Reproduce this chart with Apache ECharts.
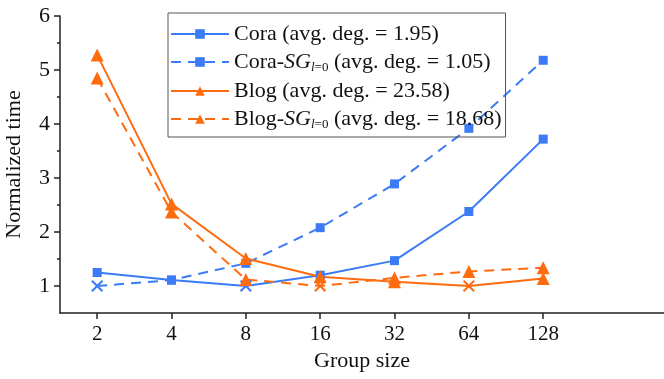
<!DOCTYPE html>
<html>
<head>
<meta charset="utf-8">
<script src="https://cdn.jsdelivr.net/npm/echarts@6/dist/echarts.min.js"></script>
<style>
  html, body { margin: 0; padding: 0; background: #fff; }
  #main { width: 664px; height: 379px; }
</style>
</head>
<body>
<div id="main"></div>
<script>
var groupSizes = [2, 4, 8, 16, 32, 64, 128];
var cora = [1.25, 1.11, 1.0, 1.2, 1.47, 2.38, 3.72];
var coraSG = [1.0, 1.11, 1.42, 2.08, 2.89, 3.92, 5.18];
var blog = [5.28, 2.52, 1.51, 1.17, 1.08, 1.0, 1.14];
var blogSG = [4.85, 2.37, 1.12, 1.0, 1.15, 1.27, 1.34];
var yTicks = [1, 2, 3, 4, 5, 6];

var BLUE = '#3B7BF6';
var ORANGE = '#FF6B0F';
var FONT = 'Liberation Serif';
var CROSS = 'path://M0,1.2L1.2,0L5,3.8L8.8,0L10,1.2L6.2,5L10,8.8L8.8,10L5,6.2L1.2,10L0,8.8L3.8,5Z';

var logX = groupSizes.map(function (g) { return Math.log2(g); });

function makeSeries(name, values, color, symbol, size, dashed) {
  return {
    name: name,
    type: 'line',
    symbol: symbol,
    symbolSize: size,
    color: color,
    lineStyle: { width: 2, type: dashed ? [10, 7] : 'solid' },
    itemStyle: { color: color },
    data: values.map(function (v, i) {
      var d = { value: [logX[i], v] };
      // normalised minimum gets the cross marker
      if (v === 1) { d.symbol = CROSS; d.symbolSize = 12; }
      return d;
    })
  };
}

var legendNames = {
  'Cora': 'Cora (avg. deg. = 1.95)',
  'Cora-SG': 'Cora-{i|SG}{s|l}{s2|=0} (avg. deg. = 1.05)',
  'Blog': 'Blog (avg. deg. = 23.58)',
  'Blog-SG': 'Blog-{i|SG}{s|l}{s2|=0} (avg. deg. = 18.68)'
};

var myChart = echarts.init(document.getElementById('main'));

var option = {
  animation: false,
  backgroundColor: '#fff',
  grid: { left: 60, right: 0, top: 16, bottom: 66, outerBoundsMode: 'none', containLabel: false },
  legend: {
    orient: 'vertical',
    left: 168,
    top: 13,
    padding: [10, 4, 6, 2],
    borderColor: '#555',
    borderWidth: 1,
    itemGap: 6,
    itemWidth: 58,
    itemHeight: 12,
    formatter: function (n) { return legendNames[n]; },
    textStyle: {
      fontFamily: FONT,
      fontSize: 22,
      color: '#111',
      rich: {
        i: { fontFamily: FONT, fontSize: 22, fontStyle: 'italic', color: '#111' },
        s: { fontFamily: FONT, fontSize: 13, fontStyle: 'italic', color: '#111', padding: [11, 0, 0, 0] },
        s2: { fontFamily: FONT, fontSize: 13, color: '#111', padding: [11, 0, 0, 0] }
      }
    },
    data: ['Cora', 'Cora-SG', 'Blog', 'Blog-SG']
  },
  xAxis: {
    type: 'value',
    min: 0.5,
    max: 8.625,
    name: 'Group size',
    nameLocation: 'middle',
    nameGap: 37,
    nameTextStyle: { fontFamily: FONT, fontSize: 22, color: '#111' },
    axisLine: { lineStyle: { color: '#222', width: 1.5 } },
    axisTick: { customValues: logX, length: 6, lineStyle: { color: '#222', width: 1.5 } },
    axisLabel: {
      customValues: logX,
      margin: 11,
      fontFamily: FONT,
      fontSize: 21,
      color: '#111',
      formatter: function (v) { return String(Math.round(Math.pow(2, v))); }
    },
    splitLine: { show: false }
  },
  yAxis: [
    {
      type: 'value',
      min: 0.5,
      max: 6,
      name: 'Normalized time',
      nameLocation: 'middle',
      nameGap: 35,
      nameTextStyle: { fontFamily: FONT, fontSize: 22, color: '#111' },
      axisLine: { show: true, lineStyle: { color: '#222', width: 1.5 } },
      axisTick: { show: true, customValues: yTicks, length: 6, lineStyle: { color: '#222', width: 1.5 } },
      axisLabel: { customValues: yTicks, margin: 10, fontFamily: FONT, fontSize: 22, color: '#111' },
      splitLine: { show: false }
    },
    {
      type: 'value',
      min: 0.5,
      max: 6,
      position: 'left',
      offset: 0,
      axisLine: { show: false },
      axisTick: {
        show: true,
        customValues: yTicks.slice(0, -1).map(function (v) { return v + 0.5; }),
        length: 3,
        lineStyle: { color: '#222', width: 1.5 }
      },
      axisLabel: { show: false },
      splitLine: { show: false }
    }
  ],
  series: [
    makeSeries('Cora', cora, BLUE, 'rect', 9, false),
    makeSeries('Cora-SG', coraSG, BLUE, 'rect', 9, true),
    makeSeries('Blog', blog, ORANGE, 'triangle', 13, false),
    makeSeries('Blog-SG', blogSG, ORANGE, 'triangle', 13, true)
  ]
};

myChart.setOption(option);
</script>
</body>
</html>
